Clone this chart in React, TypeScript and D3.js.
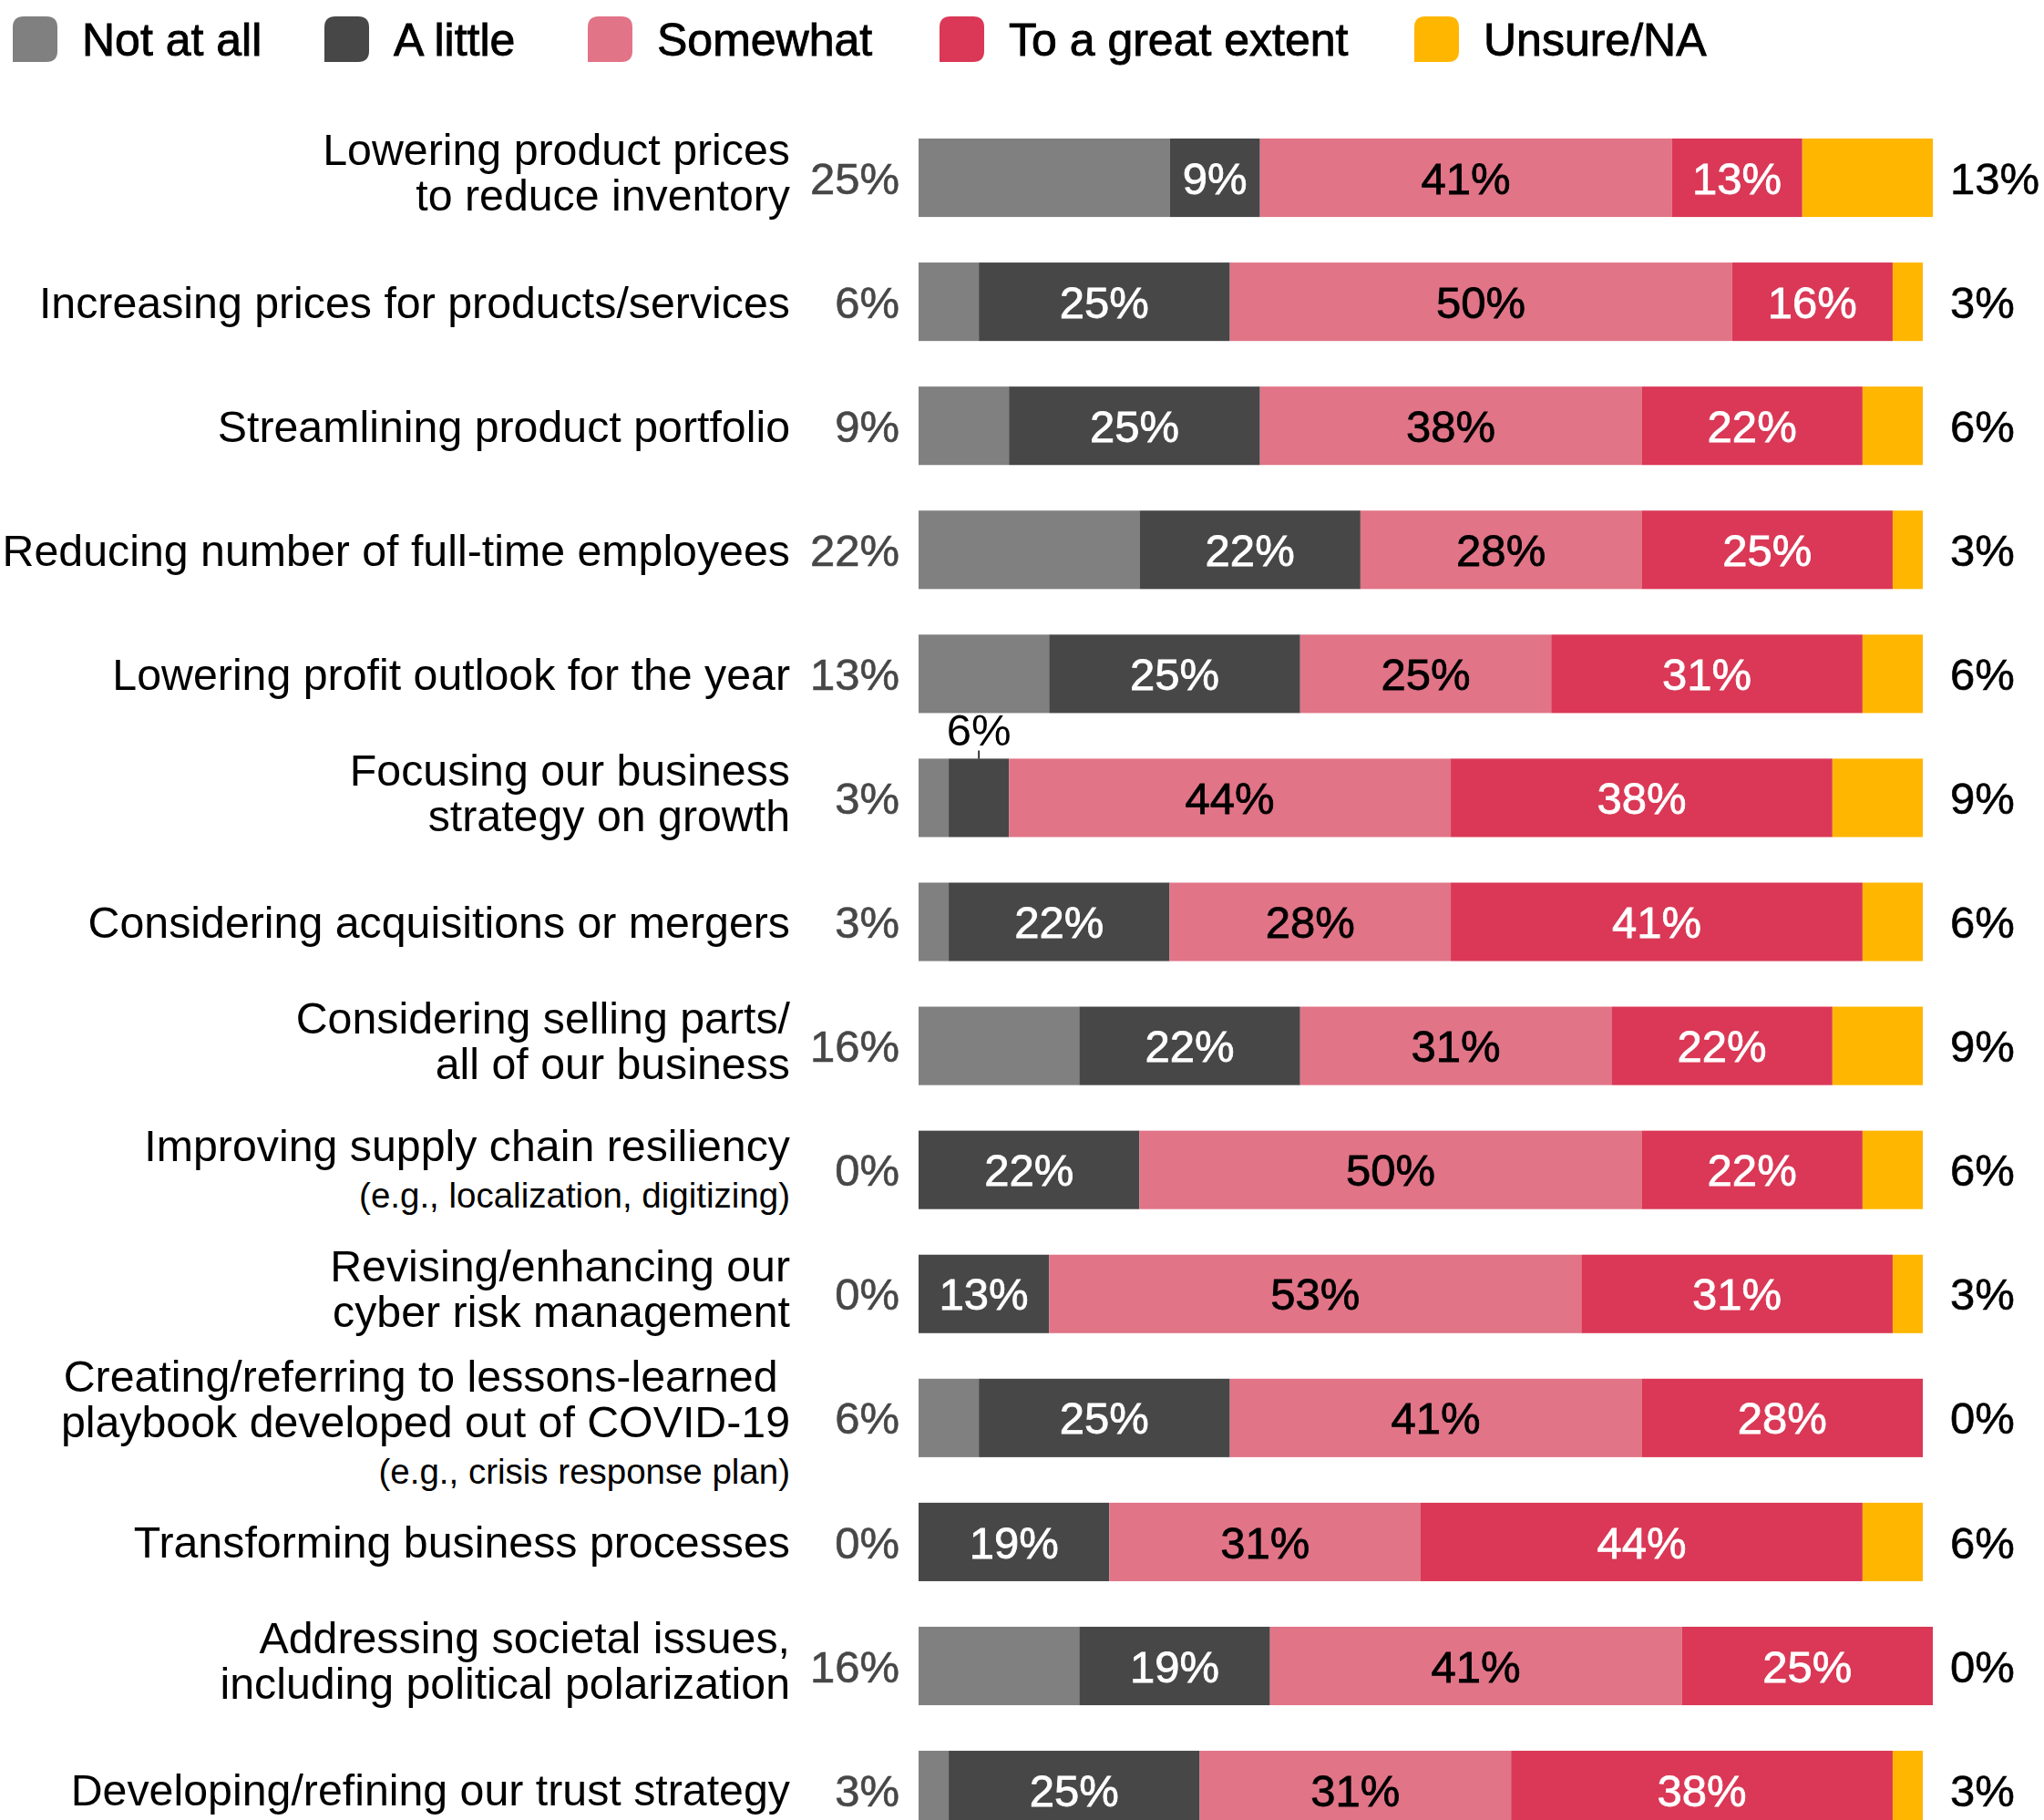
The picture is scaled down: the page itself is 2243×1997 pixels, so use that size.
import React from "react";
import * as d3 from "d3";

const W = 2243;
const H = 1997;

// series
const seriesKeys = ["Not at all", "A little", "Somewhat", "To a great extent", "Unsure/NA"];
const seriesColors = ["#808080", "#474747", "#e17487", "#da3856", "#ffb600"];
const insideTextColors = ["", "#ffffff", "#000000", "#ffffff", ""];

// categories (label lines) + small notes under some of them
const labelLines = [
  ["Lowering product prices", "to reduce inventory"],
  ["Increasing prices for products/services"],
  ["Streamlining product portfolio"],
  ["Reducing number of full-time employees"],
  ["Lowering profit outlook for the year"],
  ["Focusing our business", "strategy on growth"],
  ["Considering acquisitions or mergers"],
  ["Considering selling parts/", "all of our business"],
  ["Improving supply chain resiliency"],
  ["Revising/enhancing our", "cyber risk management"],
  ["Creating/referring to lessons-learned ", "playbook developed out of COVID-19"],
  ["Transforming business processes"],
  ["Addressing societal issues,", "including political polarization"],
  ["Developing/refining our trust strategy"],
];
const labelNotes = ["", "", "", "", "", "", "", "", "(e.g., localization, digitizing)", "", "(e.g., crisis response plan)", "", "", ""];

// values in %
const notAtAll = [25, 6, 9, 22, 13, 3, 3, 16, 0, 0, 6, 0, 16, 3];
const aLittle = [9, 25, 25, 22, 25, 6, 22, 22, 22, 13, 25, 19, 19, 25];
const somewhat = [41, 50, 38, 28, 25, 44, 28, 31, 50, 53, 41, 31, 41, 31];
const greatExtent = [13, 16, 22, 25, 31, 38, 41, 22, 22, 31, 28, 44, 25, 38];
const unsure = [13, 3, 6, 3, 6, 9, 6, 9, 6, 3, 0, 6, 0, 3];

// layout
const legendX = [14, 356, 645, 1031, 1552];
const FONT = "'Liberation Sans', Arial, Helvetica, sans-serif";
const FS = 49; // values
const FS_LABEL = 48.3;
const FS_SMALL = 38.5;

function LegendSwatch({ x, y, w, h, r, fill }) {
  // rounded on three corners, square bottom-left
  const d = `M${x},${y + r} Q${x},${y} ${x + r},${y} L${x + w - r},${y} Q${x + w},${y} ${x + w},${y + r}
    L${x + w},${y + h - r} Q${x + w},${y + h} ${x + w - r},${y + h} L${x},${y + h} Z`;
  return <path d={d} fill={fill} />;
}

export default function App() {
  const rows = labelLines.map((_, i) => ({
    idx: i,
    "Not at all": notAtAll[i],
    "A little": aLittle[i],
    "Somewhat": somewhat[i],
    "To a great extent": greatExtent[i],
    "Unsure/NA": unsure[i],
  }));

  const stacked = d3.stack().keys(seriesKeys)(rows);

  const x = d3.scaleLinear().domain([0, 100]).range([1008, 2110]);
  const step = 136.08;
  const y = d3
    .scaleBand()
    .domain(rows.map((d) => d.idx))
    .range([127, 127 + step * rows.length])
    .paddingInner(0.3674)
    .paddingOuter(0.1837);
  const bh = y.bandwidth();

  const labelX = 867;
  const leftValX = 987;
  const rightValX = 2140;
  const base = 0.36; // baseline offset in em to center caps

  return (
    <svg
      width={W}
      height={H}
      style={{ position: "absolute", left: 0, top: 0, background: "#fff" }}
      fontFamily={FONT}
    >
      {/* legend */}
      {seriesKeys.map((k, i) => (
        <g key={k}>
          <LegendSwatch x={legendX[i]} y={18} w={49} h={50} r={12} fill={seriesColors[i]} />
          <text
            x={legendX[i] + 76}
            y={61}
            fontSize={50}
            fill="#000"
            stroke="#000"
            strokeWidth={0.9}
          >
            {k}
          </text>
        </g>
      ))}

      {/* bars */}
      {stacked.map((s, si) => (
        <g key={s.key} fill={seriesColors[si]}>
          {s.map((d, ri) => (
            <rect
              key={ri}
              x={x(d[0])}
              y={y(ri)}
              width={Math.max(0, x(d[1]) - x(d[0]))}
              height={bh}
            />
          ))}
        </g>
      ))}

      {/* inside labels */}
      {stacked.map((s, si) =>
        insideTextColors[si]
          ? s.map((d, ri) => {
              const v = d[1] - d[0];
              if (v <= 0) return null;
              const cx = (x(d[0]) + x(d[1])) / 2;
              const cy = y(ri) + bh / 2;
              if (v < 8) {
                return (
                  <g key={`${si}-${ri}`}>
                    <line x1={cx} x2={cx} y1={y(ri) - 9} y2={y(ri)} stroke="#000" strokeWidth={1.5} />
                    <text x={cx} y={y(ri) - 14} textAnchor="middle" fontSize={FS} fill="#000">
                      {v}%
                    </text>
                  </g>
                );
              }
              return (
                <text
                  key={`${si}-${ri}`}
                  x={cx}
                  y={cy + FS * base}
                  textAnchor="middle"
                  fontSize={FS}
                  fill={insideTextColors[si]}
                  stroke={insideTextColors[si]}
                  strokeWidth={0.8}
                >
                  {v}%
                </text>
              );
            })
          : null
      )}

      {/* left values (Not at all) and right values (Unsure/NA) */}
      {rows.map((r, i) => (
        <g key={`lr-${i}`}>
          <text
            x={leftValX}
            y={y(i) + bh / 2 + FS * base}
            textAnchor="end"
            fontSize={FS}
            fill="#474747"
            stroke="#474747"
            strokeWidth={0.6}
          >
            {notAtAll[i]}%
          </text>
          <text
            x={rightValX}
            y={y(i) + bh / 2 + FS * base}
            fontSize={FS}
            fill="#000"
            stroke="#000"
            strokeWidth={0.6}
          >
            {unsure[i]}%
          </text>
        </g>
      ))}

      {/* category labels */}
      {labelLines.map((lines, i) => {
        const items = lines.map((t, j) => ({ t, fs: FS_LABEL, off: j * 50 }));
        const note = labelNotes[i];
        if (note) items.push({ t: note, fs: FS_SMALL, off: (lines.length - 1) * 50 + 54 });
        const mid = (items[0].off + items[items.length - 1].off) / 2;
        const shift = note ? (lines.length > 1 ? 6 : 0) : lines.length > 1 ? -6 : 0;
        const cy = y(i) + bh / 2 + shift;
        return (
          <text key={`lab-${i}`} textAnchor="end" fill="#000" style={{ whiteSpace: "pre" }}>
            {items.map((it, j) => (
              <tspan
                key={j}
                x={labelX}
                y={cy + it.off - mid + it.fs * base}
                fontSize={it.fs}
              >
                {it.t}
              </tspan>
            ))}
          </text>
        );
      })}
    </svg>
  );
}
